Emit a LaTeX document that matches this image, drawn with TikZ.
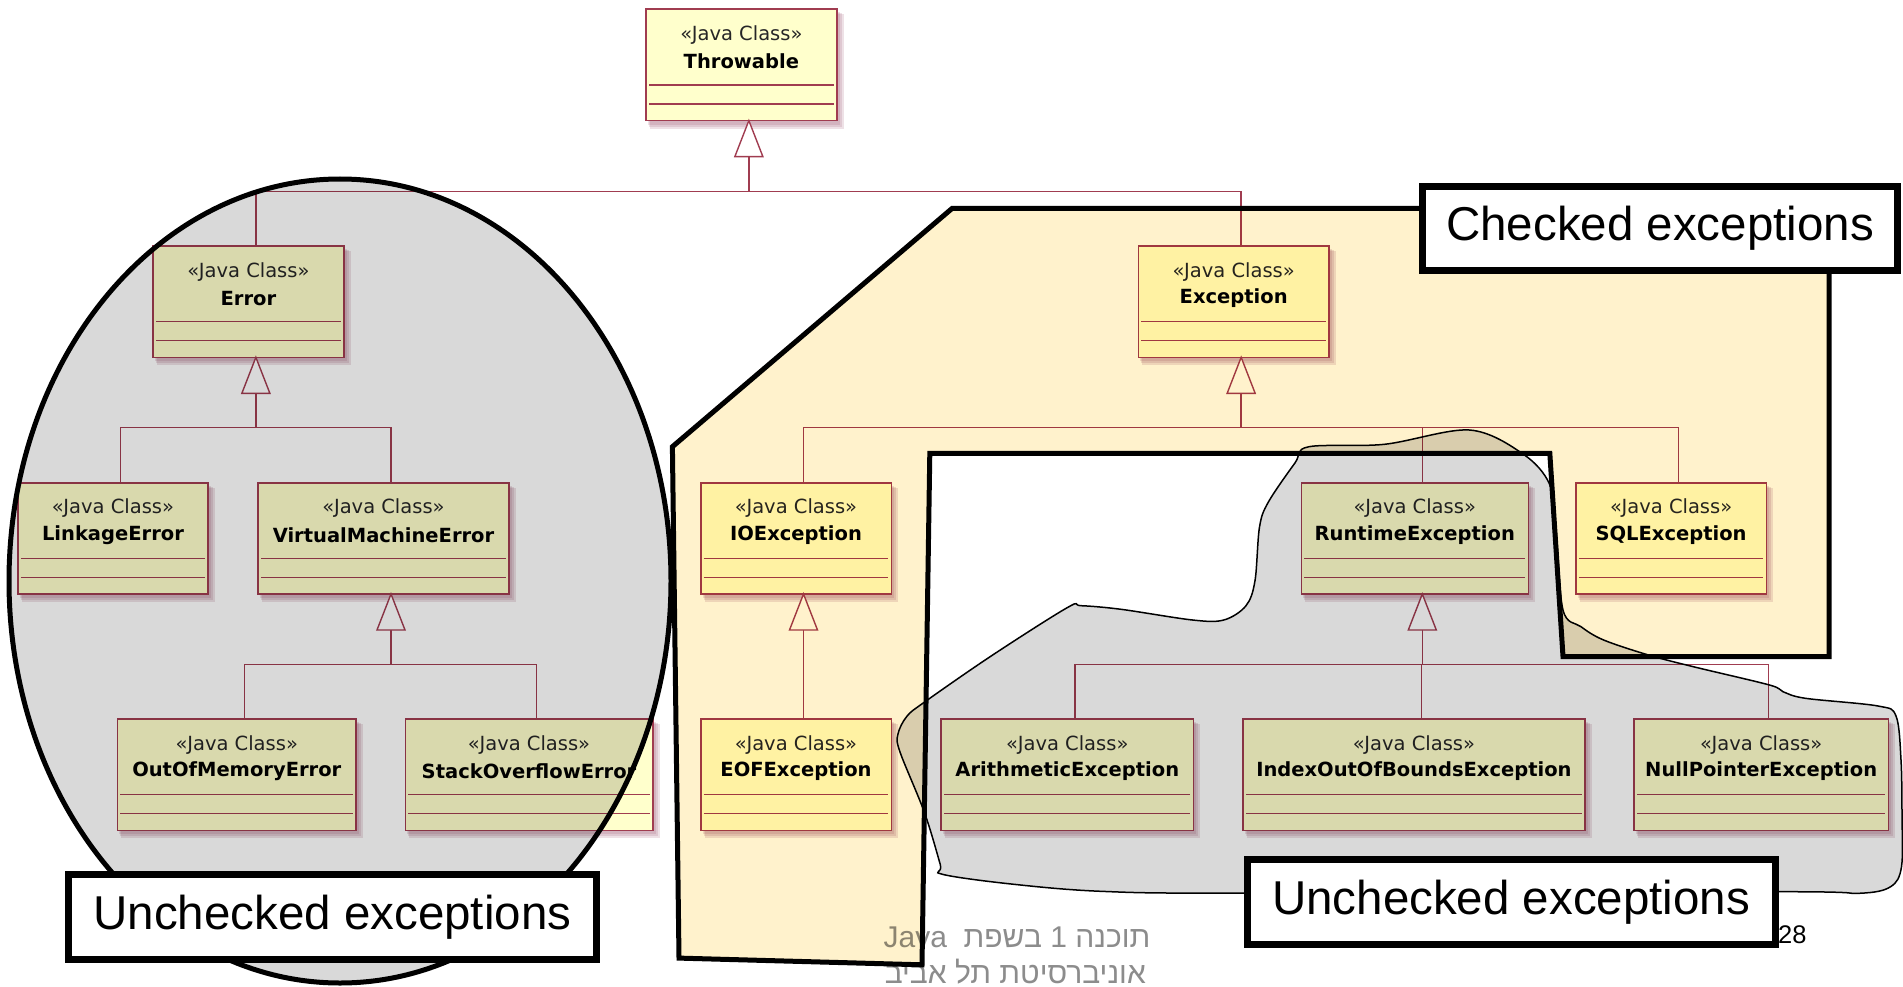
\documentclass[tikz,border=0pt]{standalone}
\usepackage{fontspec}
\setmainfont{Liberation Sans}
\newfontfamily\umlfont{DejaVu Sans}
\newfontfamily\hebfont[Script=Hebrew]{Liberation Sans}
\TeXXeTstate=1
\definecolor{umlfill}{RGB}{255,255,204}
\definecolor{umlred}{RGB}{160,60,80}
\definecolor{shadowc}{RGB}{150,70,100}
\definecolor{graycl}{RGB}{217,217,217}
\definecolor{yellowcl}{RGB}{255,242,204}
\definecolor{footgray}{RGB}{140,140,140}
\tikzset{
  umlbox/.style={draw=umlred, line width=1.6pt, fill=umlfill, anchor=north west,
    minimum height=111.3pt, inner sep=0pt, outer sep=0pt},
  shshade/.style={fill=shadowc, opacity=0.16},
  umlln/.style={draw=umlred, line width=1.4pt},
  stereo/.style={font=\umlfont\fontsize{19.5}{22}\selectfont, text=black!85, inner sep=0pt},
  cname/.style={font=\umlfont\bfseries\fontsize{19.5}{22}\selectfont, inner sep=0pt},
  conn/.style={draw=umlred, line width=1.4pt},
  gen/.style={draw=umlred, line width=1.4pt, fill=white, line join=miter},
  labelbox/.style={draw=black, line width=7pt, fill=white, inner sep=0pt,
    font=\fontsize{47.5}{56}\selectfont},
  footer/.style={font=\hebfont\fontsize{30}{36}\selectfont, text=footgray, inner sep=0pt},
  overlay/.style={draw=black, line width=5pt, line join=miter},
}
% #1 name, #2 x1, #3 x2, #4 top y, #5 class name
\newcommand\umlcls[5]{%
  \fill[shshade] (#2+2,#4+3) rectangle (#3+3,#4+111.3+4);
  \fill[shshade] (#2+3,#4+4) rectangle (#3+5,#4+111.3+6);
  \fill[shshade] (#2+4,#4+5) rectangle (#3+7,#4+111.3+8);
  \pgfmathsetmacro\bw{#3-#2}%
  \node[umlbox, minimum width=\bw pt] (#1) at (#2,#4) {};
  \draw[umlln] ([xshift=3pt,yshift=-75.7pt]#1.north west) -- ([xshift=-3pt,yshift=-75.7pt]#1.north east);
  \draw[umlln] ([xshift=3pt,yshift=-94.7pt]#1.north west) -- ([xshift=-3pt,yshift=-94.7pt]#1.north east);
  \node[stereo] (#1-s) at ([yshift=-25.7pt]#1.north) {«Java Class»};
  \node[cname] (#1-n) at ([yshift=-52.4pt]#1.north) {#5};
  \coordinate (#1-t) at ([xshift=7.5pt]#1.north);
  \coordinate (#1-b) at ([xshift=7.5pt]#1.south);
}
\newcommand\inherit[3]{\draw[conn] (#1-t) -- (#1-t |- #3) -| ([yshift=-36pt]#2-b);}
\newcommand\tri[1]{\draw[gen] (#1-b) -- ++(-14,36) -- ++(28,0) -- cycle;}
\begin{document}
\begin{tikzpicture}[x=1pt,y=-1pt]
\useasboundingbox (0,0) rectangle (1903,987);
\fill[white] (0,0) rectangle (1903,987);
\coordinate (bar1) at (0,191.5);
\coordinate (bar2) at (0,427.3);
\coordinate (bar3) at (0,664.2);
% UML classes
\umlcls{thr}{646}{836.7}{9.3}{Throwable}
\umlcls{err}{153}{343.75}{246}{Error}
\umlcls{exc}{1138.3}{1329}{246}{Exception}
\umlcls{lnk}{17.9}{208}{482.7}{LinkageError}
\umlcls{vme}{258}{509}{482.7}{VirtualMachineError}
\umlcls{ioe}{700.7}{891.3}{482.7}{IOException}
\umlcls{rte}{1301.3}{1528.3}{482.7}{RuntimeException}
\umlcls{sql}{1575.8}{1766.4}{482.7}{SQLException}
\umlcls{oom}{117.4}{356.25}{719}{OutOfMemoryError}
\umlcls{soe}{405.4}{652.7}{719}{StackOverflowError}
\umlcls{eof}{700.7}{891.3}{719}{EOFException}
\umlcls{ari}{941.2}{1193.4}{719}{ArithmeticException}
\umlcls{iob}{1243}{1584.8}{719}{IndexOutOfBoundsException}
\umlcls{npe}{1634}{1888.3}{719}{NullPointerException}
% generalizations
\inherit{err}{thr}{bar1}
\inherit{exc}{thr}{bar1}
\inherit{lnk}{err}{bar2}
\inherit{vme}{err}{bar2}
\inherit{ioe}{exc}{bar2}
\inherit{rte}{exc}{bar2}
\inherit{sql}{exc}{bar2}
\inherit{oom}{vme}{bar3}
\inherit{soe}{vme}{bar3}
\inherit{eof}{ioe}{bar3}
\inherit{ari}{rte}{bar3}
\inherit{iob}{rte}{bar3}
\inherit{npe}{rte}{bar3}
\tri{thr}\tri{err}\tri{exc}\tri{vme}\tri{ioe}\tri{rte}
% footer
\node[footer, anchor=base east] (f1) at (1150.5,947.5) {\beginR תוכנה 1 בשפת \ \beginL Java\endL\endR};
\node[footer, anchor=base east] (f2) at (1146,983) {\beginR אוניברסיטת תל אביב\endR};
\node[anchor=base west, inner sep=0pt, font=\fontsize{25.5}{30}\selectfont] (pg) at (1778,943.3) {28};
% overlays
\begin{scope}[blend mode=multiply]
\draw[overlay, fill=graycl] (340,581) ellipse [x radius=331, y radius=402];
\draw[overlay, fill=yellowcl] (952,208.5) -- (1829,208.5) -- (1829,656.6) -- (1563,656.6)
  -- (1549.8,453.3) -- (929.8,453.3) -- (922,964.8) -- (679,958.1) -- (672.4,446.7) -- cycle;
\draw[draw=black, line width=1.5pt, fill=graycl] plot[smooth cycle, tension=0.55] coordinates {
  (1308.6,446.8) (1384.5,444.3) (1469.3,430) (1522.9,453.9) (1549.6,484.3) (1556,530)
  (1563,610) (1581,626.7) (1603.6,640) (1648.4,655) (1693.3,666.7) (1769.5,685)
  (1783,691.7) (1805.4,698.3) (1878,706) (1896,716) (1901,760) (1902,815) (1901.5,866.7) (1890.6,886.7)
  (1859,893.3) (1778.5,891.7) (1243.8,893.2) (1103.2,891.4) (1013.9,884.3) (942.5,874.3)
  (940.3,864.6) (924.6,812.9) (900,752) (897.9,734.3) (906.8,716.4) (924.6,702)
  (991.6,655.7) (1067.5,607.5) (1080.9,605.7) (1121,609.3) (1192.5,620) (1223.8,620)
  (1246,605.7) (1255,580.7) (1259.5,527) (1268.4,502) (1295,462.9)};
\end{scope}
% labels
\node[labelbox, minimum width=475pt, minimum height=84pt] (chk) at (1660,228.5) {Checked exceptions};
\node[labelbox, minimum width=528.3pt, minimum height=85.3pt] (unl) at (332.35,916.85) {Unchecked exceptions};
\node[labelbox, minimum width=527.7pt, minimum height=84.5pt] (unr) at (1511.15,902.15) {Unchecked exceptions};
\end{tikzpicture}
\end{document}
